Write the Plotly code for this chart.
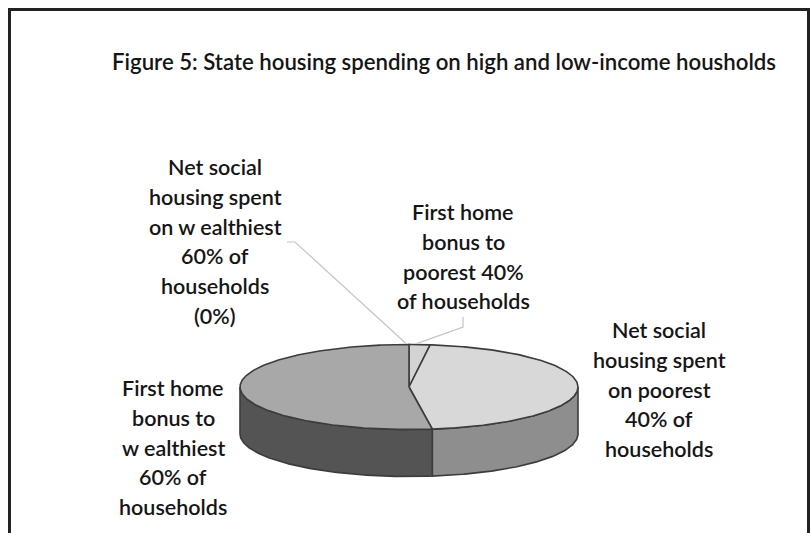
import numpy as np
import plotly.graph_objects as go

# Slice data (clockwise from 12 o'clock)
slice_labels = [
    ["First home", "bonus to", "poorest 40%", "of households"],
    ["Net social", "housing spent", "on poorest", "40% of", "households"],
    ["First home", "bonus to", "w ealthiest", "60% of", "households"],
    ["Net social", "housing spent", "on w ealthiest", "60% of", "households", "(0%)"],
]
shares = [2.0, 45.8, 52.2, 0.0]
top_colors = ["#d3d3d3", "#d8d8d8", "#a8a8a8", "#a8a8a8"]
side_colors = ["#8e8e8e", "#8e8e8e", "#545454", "#545454"]

title_text = "Figure 5: State housing spending on high and low-income housholds"

W, H = 811, 533
CX, CY, RX, RY, DEPTH = 409, 387, 169, 42.5, 47
EDGE = "#3c3c3c"
FONT = "Lato"

# label anchor (centre x, first line y) for each slice
label_pos = [(463, 212), (659, 330), (173, 388), (215, 167)]
LINE_STEP = 29.8


def pt(deg, dy=0.0):
    t = np.radians(deg)
    return CX + RX * np.sin(t), CY - RY * np.cos(t) + dy


def arc(a0, a1, dy=0.0, n=None):
    n = n or max(2, int(abs(a1 - a0) * 1.5) + 2)
    a = np.linspace(a0, a1, n)
    t = np.radians(a)
    return list(CX + RX * np.sin(t)), list(CY - RY * np.cos(t) + dy)


total = sum(shares)
bounds = np.concatenate([[0], np.cumsum(shares) / total * 360.0])

fig = go.Figure()

# visible side walls (front half of the cylinder, 90..270 deg)
for i in range(len(shares)):
    a0, a1 = bounds[i], bounds[i + 1]
    s, e = max(a0, 90.0), min(a1, 270.0)
    if e - s <= 0:
        continue
    xt, yt = arc(s, e)
    xb, yb = arc(e, s, dy=DEPTH)
    fig.add_trace(go.Scatter(
        x=xt + xb + [xt[0]], y=yt + yb + [yt[0]],
        mode="lines", fill="toself", fillcolor=side_colors[i],
        line=dict(color=EDGE, width=1.6), hoverinfo="skip", showlegend=False))

# top faces
for i in range(len(shares)):
    a0, a1 = bounds[i], bounds[i + 1]
    if a1 - a0 <= 0:
        continue
    xs, ys = arc(a0, a1)
    fig.add_trace(go.Scatter(
        x=[CX] + xs + [CX], y=[CY] + ys + [CY],
        mode="lines", fill="toself", fillcolor=top_colors[i],
        line=dict(color=EDGE, width=1.6), hoverinfo="skip", showlegend=False))

# leader lines for the two thin slices at the top
lead = "#c4c4c4"
mid0 = (bounds[0] + bounds[1]) / 2
ex, ey = pt(mid0)
lx, ly = label_pos[0]
fig.add_trace(go.Scatter(
    x=[lx, lx, ex - 3], y=[ly + 105, ly + 115, ey - 1], mode="lines",
    line=dict(color=lead, width=1.2), hoverinfo="skip", showlegend=False))
ex3, ey3 = pt(bounds[3])
fig.add_trace(go.Scatter(
    x=[287, 295, ex3 - 3], y=[242, 242, ey3 - 1], mode="lines",
    line=dict(color=lead, width=1.2), hoverinfo="skip", showlegend=False))

annotations = []
for lines, (cx, y0) in zip(slice_labels, label_pos):
    for k, txt in enumerate(lines):
        annotations.append(dict(
            x=cx, y=y0 + k * LINE_STEP, xref="x", yref="y", text=txt,
            showarrow=False, xanchor="center", yanchor="middle",
            font=dict(family=FONT, size=21.5, color="#151515", weight=600)))

annotations.append(dict(
    x=444, y=61, xref="x", yref="y", text=title_text, showarrow=False,
    xanchor="center", yanchor="middle",
    font=dict(family=FONT, size=22.2, color="#151515", weight=600)))

fig.update_layout(
    width=W, height=H, margin=dict(l=0, r=0, t=0, b=0),
    paper_bgcolor="white", plot_bgcolor="white",
    xaxis=dict(range=[0, W], visible=False, fixedrange=True),
    yaxis=dict(range=[H, 0], visible=False, fixedrange=True),
    annotations=annotations,
    shapes=[dict(type="rect", xref="x", yref="y", x0=9.5, x1=808.5, y0=9.5, y1=H + 10,
                 line=dict(color="#222222", width=3))],
)

fig.write_html("out.html")
